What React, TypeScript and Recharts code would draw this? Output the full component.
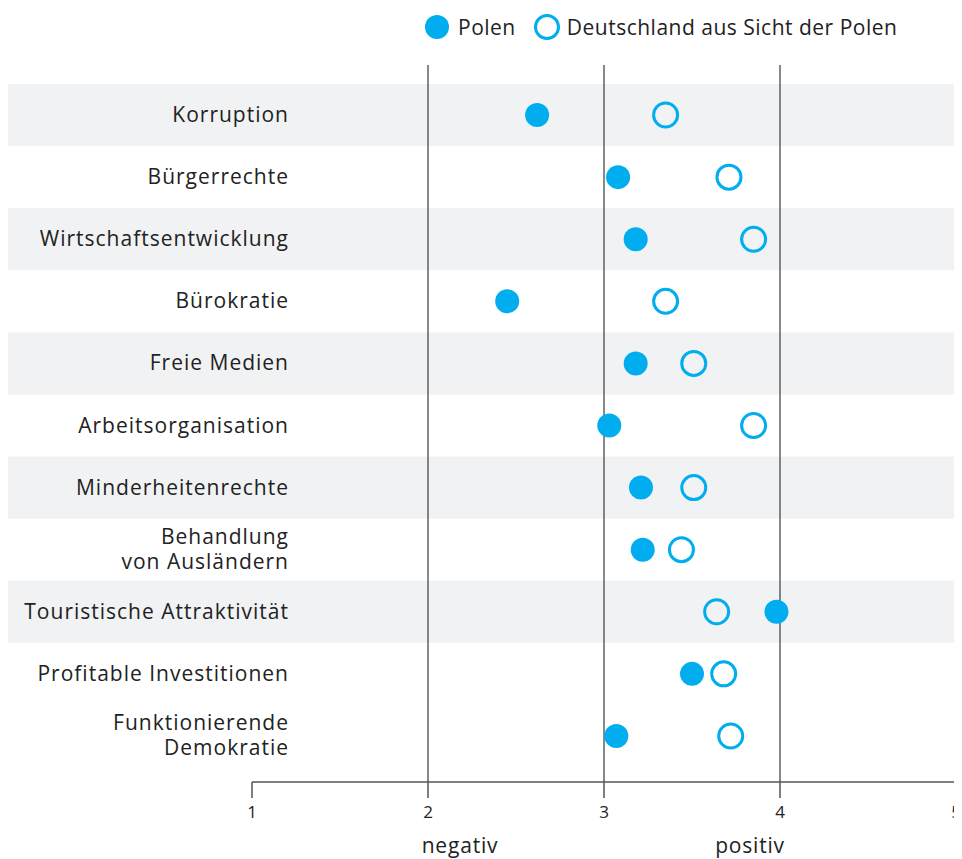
import React from 'react';
import {
  ComposedChart,
  Line,
  XAxis,
  YAxis,
  ReferenceLine,
  ReferenceArea,
} from 'recharts';

const CATEGORIES = [
  'Korruption',
  'Bürgerrechte',
  'Wirtschaftsentwicklung',
  'Bürokratie',
  'Freie Medien',
  'Arbeitsorganisation',
  'Minderheitenrechte',
  'Behandlung\nvon Ausländern',
  'Touristische Attraktivität',
  'Profitable Investitionen',
  'Funktionierende\nDemokratie',
];

// mean rating 1 (negativ) .. 5 (positiv)
const POLEN = [2.62, 3.08, 3.18, 2.45, 3.18, 3.03, 3.21, 3.22, 3.98, 3.5, 3.07];
const DEUTSCHLAND = [3.35, 3.71, 3.85, 3.35, 3.51, 3.85, 3.51, 3.44, 3.64, 3.68, 3.72];

const X_TICKS = [1, 2, 3, 4, 5];
const GRID_VALUES = [2, 3, 4];

const SERIES_POLEN = 'Polen';
const SERIES_DE = 'Deutschland aus Sicht der Polen';

const data = CATEGORIES.map((name, i) => ({
  name,
  polen: POLEN[i],
  de: DEUTSCHLAND[i],
}));

const BLUE = '#00adef';
const BAND = '#f1f2f4';
const TEXT = '#222';
const FONT = '"Open Sans", "Noto Sans", sans-serif';

const W = 954;
const H = 851;
const LABEL_RIGHT = 281;

function CategoryTick({ y, payload }: { x?: number; y?: number; payload?: { value: string } }) {
  if (!payload || y === undefined) return null;
  const lines = String(payload.value).split('\n');
  const gap = 25;
  const first = -((lines.length - 1) * gap) / 2 + 7;
  return (
    <text
      x={LABEL_RIGHT}
      y={y}
      textAnchor="end"
      fill={TEXT}
      fontSize={21}
      fontFamily={FONT}
      letterSpacing={1}
    >
      {lines.map((l, i) => (
        <tspan key={i} x={LABEL_RIGHT} dy={i === 0 ? first : gap}>
          {l}
        </tspan>
      ))}
    </text>
  );
}

function Band(props: { y?: number; height?: number }) {
  return <rect x={0} y={props.y} width={W} height={props.height} fill={BAND} />;
}

function LegendRow() {
  return (
    <div
      style={{
        position: 'absolute',
        left: 416,
        top: 6,
        display: 'flex',
        alignItems: 'center',
        height: 26,
        fontFamily: FONT,
        fontSize: 21,
        letterSpacing: 0.5,
        color: TEXT,
        whiteSpace: 'nowrap',
      }}
    >
      <svg width={26} height={26}>
        <circle cx={13} cy={13} r={12} fill={BLUE} />
      </svg>
      <span style={{ marginLeft: 8 }}>{SERIES_POLEN}</span>
      <svg width={28} height={28} style={{ marginLeft: 17 }}>
        <circle cx={14} cy={14} r={11.5} fill="none" stroke={BLUE} strokeWidth={3} />
      </svg>
      <span style={{ marginLeft: 6 }}>{SERIES_DE}</span>
    </div>
  );
}

const footLabel: React.CSSProperties = {
  position: 'absolute',
  top: 826,
  fontFamily: FONT,
  fontSize: 21,
  letterSpacing: 0.8,
  color: TEXT,
  transform: 'translateX(-50%)',
  lineHeight: '22px',
};

export default function App() {
  return (
    <div style={{ position: 'relative', width: W, height: H }}>
      <ComposedChart
        width={W}
        height={H}
        data={data}
        layout="vertical"
        margin={{ top: 57, right: 6, bottom: 37, left: 0 }}
      >
        {CATEGORIES.filter((_, i) => i % 2 === 0).map((c) => (
          <ReferenceArea key={c} y1={c} y2={c} shape={<Band />} />
        ))}
        <XAxis
          type="number"
          domain={[1, 5]}
          ticks={X_TICKS}
          height={40}
          tickSize={16}
          tickMargin={8}
          axisLine={{ stroke: '#555', strokeWidth: 1.5 }}
          tickLine={{ stroke: '#555', strokeWidth: 1.5 }}
          tick={{ fill: TEXT, fontSize: 17, fontFamily: FONT }}
        />
        <YAxis
          type="category"
          dataKey="name"
          scale="band"
          width={244}
          axisLine={false}
          tickLine={false}
          interval={0}
          padding={{ top: 19, bottom: 15 }}
          tick={(p: any) => <CategoryTick {...p} />}
        />
        {GRID_VALUES.map((v) => (
          <ReferenceLine key={v} x={v} stroke="#3a3a3a" strokeWidth={1.2} />
        ))}
        <Line
          name={SERIES_POLEN}
          dataKey="polen"
          stroke="none"
          dot={{ r: 12, fill: BLUE, stroke: 'none' }}
          activeDot={false}
          isAnimationActive={false}
        />
        <Line
          name={SERIES_DE}
          dataKey="de"
          stroke="none"
          dot={{ r: 12, fill: 'none', stroke: BLUE, strokeWidth: 3 }}
          activeDot={false}
          isAnimationActive={false}
        />
      </ComposedChart>
      <LegendRow />
      <div style={{ ...footLabel, left: 452 }}>negativ</div>
      <div style={{ ...footLabel, left: 742 }}>positiv</div>
    </div>
  );
}
